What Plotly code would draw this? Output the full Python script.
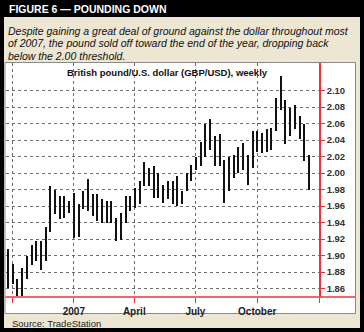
import pandas as pd
import plotly.graph_objects as go

# Weekly GBP/USD ranges, weeks starting Monday 2006-09-25 through 2007-12-17
week_start = "2006-09-25"
weekly_high = [
    1.908, 1.890, 1.871, 1.885, 1.900, 1.913, 1.917, 1.917, 1.935, 1.984,
    1.980, 1.972, 1.972, 1.966, 1.976, 1.962, 1.978, 1.993, 1.974, 1.974,
    1.968, 1.966, 1.966, 1.946, 1.952, 1.972, 1.972, 1.982, 1.990, 2.013,
    2.006, 2.008, 2.000, 1.986, 1.990, 1.990, 1.996, 1.978, 2.000, 2.010,
    2.020, 2.038, 2.059, 2.066, 2.045, 2.047, 2.016, 2.020, 2.022, 2.031,
    2.037, 2.022, 2.051, 2.051, 2.049, 2.053, 2.055, 2.091, 2.118, 2.089,
    2.079, 2.083, 2.069, 2.059, 2.022,
]
weekly_low = [
    1.861, 1.866, 1.851, 1.851, 1.871, 1.889, 1.893, 1.883, 1.893, 1.929,
    1.950, 1.944, 1.946, 1.952, 1.921, 1.923, 1.956, 1.954, 1.948, 1.942,
    1.940, 1.940, 1.940, 1.917, 1.919, 1.940, 1.954, 1.958, 1.962, 1.984,
    1.984, 1.970, 1.970, 1.964, 1.968, 1.962, 1.960, 1.962, 1.978, 1.990,
    2.004, 2.008, 2.020, 2.028, 2.008, 2.008, 1.964, 1.978, 1.994, 2.000,
    2.004, 1.986, 2.006, 2.026, 2.024, 2.026, 2.028, 2.051, 2.077, 2.035,
    2.045, 2.053, 2.041, 2.014, 1.980,
]
weeks = pd.date_range(week_start, periods=len(weekly_high), freq="7D")

price_ticks = [1.86, 1.88, 1.90, 1.92, 1.94, 1.96, 1.98, 2.00, 2.02, 2.04, 2.06, 2.08, 2.10]
date_ticks = ["2006-10-01", "2007-01-01", "2007-04-01", "2007-07-01", "2007-10-01", "2008-01-01"]
date_tick_text = ["", "2007", "April", "July", "October", ""]

title = "FIGURE 6 \u2014 POUNDING DOWN"
caption = [
    "Despite gaining a great deal of ground against the dollar throughout most",
    "of 2007, the pound sold off toward the end of the year, dropping back",
    "below the 2.00 threshold.",
]
chart_title = "British pound/U.S. dollar (GBP/USD), weekly"
source = "Source: TradeStation"

W, H = 364, 332
FONT = "Liberation Sans, Arial, sans-serif"
BEIGE = "#ece6d3"
RED = "#f0303a"


def px(x):
    return x / W


def py(y):
    return 1 - y / H


fig = go.Figure()

fig.add_trace(go.Bar(
    x=weeks,
    y=[h - l for h, l in zip(weekly_high, weekly_low)],
    base=weekly_low,
    width=3 * 24 * 3600 * 1000,
    marker=dict(color="#111111", line=dict(width=0)),
    hoverinfo="skip",
))

shapes = [
    # outer frame and header bar
    dict(type="rect", xref="paper", yref="paper", x0=0, x1=1, y0=0, y1=1,
         fillcolor="#000000", line=dict(width=0), layer="below"),
    dict(type="rect", xref="paper", yref="paper", x0=px(4), x1=px(360), y0=py(328), y1=py(17),
         fillcolor=BEIGE, line=dict(width=0), layer="below"),
    # white chart panel
    dict(type="rect", xref="paper", yref="paper", x0=px(5), x1=px(355.5), y0=py(313.5), y1=py(62.5),
         fillcolor="#ffffff", line=dict(color="#8a8a8a", width=1), layer="below"),
    # baseline running to the panel edge
    dict(type="line", xref="paper", yref="paper", x0=px(5.5), x1=px(355), y0=py(297), y1=py(297),
         line=dict(color=RED, width=1.5)),
]

annotations = [
    dict(text=f"<b>{title}</b>", x=px(7), y=py(9), xref="paper", yref="paper",
         xanchor="left", yanchor="middle", showarrow=False,
         font=dict(family=FONT, size=10.5, color="#ffffff")),
    dict(text=chart_title, x=px(167), y=py(73), xref="paper", yref="paper",
         xanchor="center", yanchor="middle", showarrow=False,
         font=dict(family=FONT, size=9.5, color="#111111", weight="bold")),
    dict(text=source, x=px(10), y=py(323), xref="paper", yref="paper",
         xanchor="left", yanchor="middle", showarrow=False,
         font=dict(family=FONT, size=9.5, color="#222222")),
]
for i, line in enumerate(caption):
    annotations.append(dict(
        text=f"<i>{line}</i>", x=px(6), y=py(30.5 + 12.8 * i), xref="paper", yref="paper",
        xanchor="left", yanchor="middle", showarrow=False,
        font=dict(family=FONT, size=10.5, color="#111111"),
    ))

fig.update_layout(
    width=W, height=H,
    margin=dict(l=0, r=0, t=0, b=0),
    paper_bgcolor="#000000",
    plot_bgcolor="#ffffff",
    showlegend=False,
    bargap=0,
    shapes=shapes,
    annotations=annotations,
    xaxis=dict(
        type="date",
        domain=[px(6), px(319)],
        range=["2006-09-22", "2008-01-01"],
        tickvals=date_ticks,
        ticktext=date_tick_text,
        showgrid=True, gridcolor="#6e6e6e", griddash="dot", gridwidth=1,
        ticks="outside", ticklen=5, tickcolor=RED, tickwidth=1,
        showline=False, zeroline=False,
        tickfont=dict(family=FONT, size=10, color="#222222", weight="bold"),
        automargin=False,
        fixedrange=True,
    ),
    yaxis=dict(
        domain=[py(297), py(63)],
        range=[1.8497, 2.1334],
        side="right",
        tickvals=price_ticks,
        tickformat=".2f",
        showgrid=True, gridcolor="#6e6e6e", griddash="dot", gridwidth=1,
        showline=True, linecolor=RED, linewidth=1.5,
        ticks="outside", ticklen=4, tickcolor=RED, tickwidth=1,
        zeroline=False,
        tickfont=dict(family=FONT, size=9.5, color="#333333", weight="bold"),
        automargin=False,
        fixedrange=True,
    ),
)

fig.write_html("out.html", config={"displayModeBar": False})
